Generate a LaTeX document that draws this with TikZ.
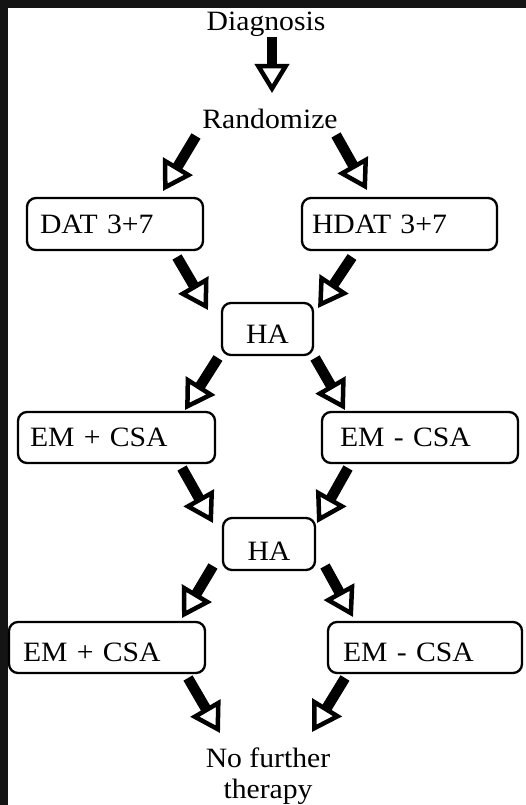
\documentclass[tikz,border=0pt]{standalone}
\usepackage{fontspec}
\setmainfont[FakeStretch=1.06]{Liberation Serif}
\usetikzlibrary{arrows.meta}
\definecolor{framedark}{HTML}{141414}
\tikzset{
  lbl/.style={font=\fontsize{28}{31}\selectfont, inner sep=0pt},
  box/.style={draw=black, line width=2.3pt, rounded corners=9pt, fill=white,
    font=\fontsize{28}{31}\selectfont, inner ysep=0pt, text height=18pt, text depth=0pt},
  lbox/.style n args={2}{box, text width=#1pt-2*#2pt, inner xsep=#2pt, align=left},
  bigarrow/.style={line width=10.5pt, draw=black,
    -{Triangle[open, length=29pt, width=34pt, line width=4.5pt]}},
}
\begin{document}
\begin{tikzpicture}[x=1pt, y=-1pt]
\useasboundingbox (0,0) rectangle (526,805);
\fill[white] (0,0) rectangle (526,805);
\fill[framedark] (0,0) rectangle (526,8);
\fill[framedark] (0,0) rectangle (8,805);

\node[lbl, anchor=base] (diag) at (266,31) {Diagnosis};
\node[lbl, anchor=base] (rand) at (270,129) {Randomize};

\node[lbox={176}{13}, minimum height=52pt] (dat) at (115,224) {DAT 3+7};
\node[lbox={195}{10}, minimum height=52pt] (hdat) at (399.5,224) {HDAT 3+7};

\node[box, minimum width=91pt, minimum height=52pt, text height=28pt] (ha1) at (267.5,329) {HA};

\node[lbox={197}{12}, minimum height=51pt] (emp1) at (116.5,437.5) {EM + CSA};
\node[lbox={196}{18}, minimum height=51pt] (emm1) at (420,437.5) {EM - CSA};

\node[box, minimum width=92pt, minimum height=52pt, text height=32pt] (ha2) at (269,544) {HA};

\node[lbox={196}{14}, minimum height=51pt, text height=28pt] (emp2) at (107,647.5) {EM + CSA};
\node[lbox={194}{15}, minimum height=51pt, text height=28pt] (emm2) at (425,647.5) {EM - CSA};

\node[lbl, anchor=base, align=center] (nft) at (268,798) {No further\\therapy};

\draw[bigarrow] ([shift={(6,6)}]diag.base) -- ([shift={(2,-36)}]rand.base);
\draw[bigarrow] ([shift={(-74,7)}]rand.base) -- ([shift={(48,-33)}]dat.center);
\draw[bigarrow] ([shift={(66,6)}]rand.base) -- ([shift={(-32.5,-34)}]hdat.center);
\draw[bigarrow] ([shift={(62,33)}]dat.center) -- ([shift={(-59.5,-19)}]ha1.center);
\draw[bigarrow] ([shift={(-47.5,33)}]hdat.center) -- ([shift={(50.5,-21)}]ha1.center);
\draw[bigarrow] ([shift={(-49.5,29)}]ha1.center) -- ([shift={(68.5,-27.5)}]emp1.center);
\draw[bigarrow] ([shift={(47.5,29)}]ha1.center) -- ([shift={(-75,-27.5)}]emm1.center);
\draw[bigarrow] ([shift={(65.5,30.5)}]emp1.center) -- ([shift={(-56,-21)}]ha2.center);
\draw[bigarrow] ([shift={(-72,30.5)}]emm1.center) -- ([shift={(48,-21)}]ha2.center);
\draw[bigarrow] ([shift={(-56,22)}]ha2.center) -- ([shift={(75,-29.5)}]emp2.center);
\draw[bigarrow] ([shift={(56,22)}]ha2.center) -- ([shift={(-72,-30.5)}]emm2.center);
\draw[bigarrow] ([shift={(81,30.5)}]emp2.center) -- ([shift={(-48,-65)}]nft.base);
\draw[bigarrow] ([shift={(-80,30.5)}]emm2.center) -- ([shift={(44,-66)}]nft.base);
\end{tikzpicture}
\end{document}
